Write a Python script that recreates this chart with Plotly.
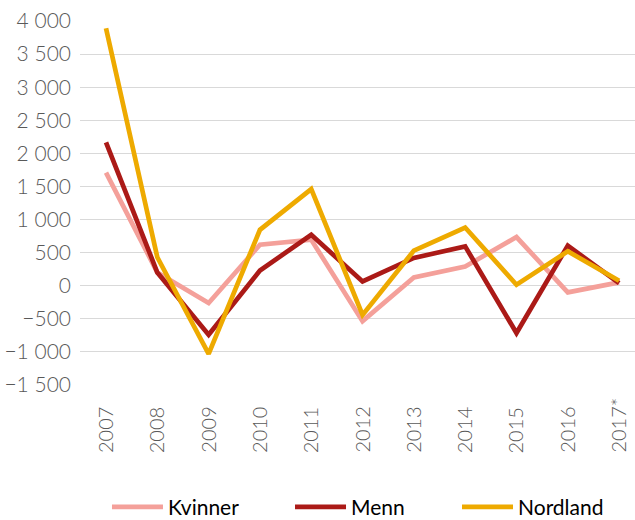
import plotly.graph_objects as go

years = ["2007", "2008", "2009", "2010", "2011", "2012", "2013", "2014", "2015", "2016", "2017*"]
kvinner = [1710, 200, -260, 620, 695, -535, 125, 290, 735, -100, 50]
menn = [2165, 200, -740, 230, 770, 65, 420, 595, -715, 605, 40]
nordland = [3890, 430, -1030, 845, 1460, -440, 530, 880, 15, 520, 75]
y_ticks = [-1500, -1000, -500, 0, 500, 1000, 1500, 2000, 2500, 3000, 3500, 4000]

series = [("Kvinner", kvinner, "#F4A09A"), ("Menn", menn, "#AB1A17"), ("Nordland", nordland, "#EEAA00")]
legend_x = [0.0486, 0.3784, 0.6793]

FONT = "Lato"
fig = go.Figure()
for i, (name, vals, col) in enumerate(series):
    fig.add_trace(go.Scatter(
        x=years, y=vals, name=name, mode="lines",
        line=dict(color=col, width=4.7),
        legend="legend" if i == 0 else f"legend{i+1}",
    ))

legend_common = dict(orientation="h", yanchor="middle", y=-0.336, xanchor="left",
                     font=dict(family=FONT, size=21, color="#000000"),
                     bgcolor="rgba(0,0,0,0)", itemwidth=51)

for i, yr in enumerate(years):
    fig.add_annotation(x=i, xref="x", y=-0.1923, yref="paper", text=yr,
                       textangle=-90, showarrow=False, xanchor="center", yanchor="bottom",
                       font=dict(family=FONT, size=20, color="#595959", weight=300), xshift=-1)

fig.update_layout(
    width=635, height=520,
    margin=dict(l=80, r=0, t=21, b=135, autoexpand=False),
    paper_bgcolor="white", plot_bgcolor="white",
    separators=", ",
    showlegend=True,
    legend=dict(legend_common, x=legend_x[0]),
    legend2=dict(legend_common, x=legend_x[1]),
    legend3=dict(legend_common, x=legend_x[2]),
    xaxis=dict(type="category", range=[-0.507, 10.31], showticklabels=False, automargin=False,
               showgrid=False, zeroline=False, showline=False, ticks=""),
    yaxis=dict(range=[-1500, 4000], tickvals=y_ticks, tickformat=",d", automargin=False,
               showgrid=True, gridcolor="#D9D9D9", gridwidth=1.3,
               zeroline=True, zerolinecolor="#D9D9D9", zerolinewidth=1.3,
               showline=False, ticks="", ticklabelstandoff=8,
               tickfont=dict(family=FONT, size=21, color="#595959", weight=300)),
)

fig.write_html("out.html", config={"displayModeBar": False},
               post_script="document.body.style.margin='0';document.body.style.overflow='hidden';")
